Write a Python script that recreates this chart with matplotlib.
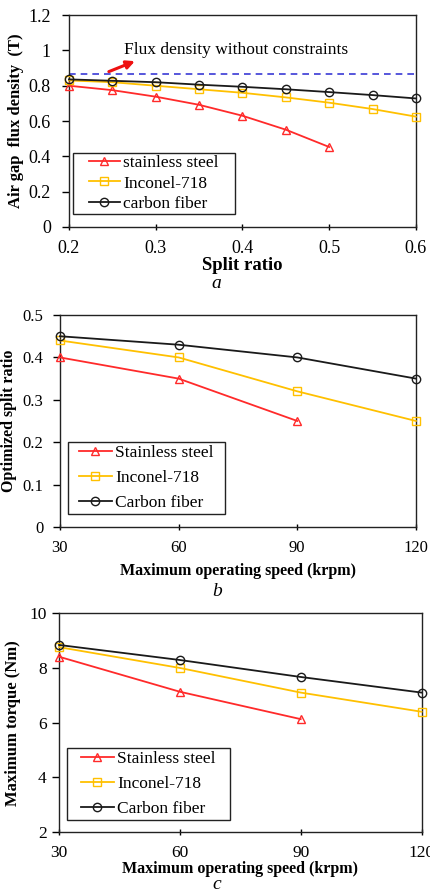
import matplotlib
matplotlib.use("Agg")
import matplotlib.pyplot as plt
from matplotlib.patches import Rectangle

plt.rcParams['font.family'] = ['Liberation Serif', 'DejaVu Serif']

# Panel a
split_ss = [0.2, 0.25, 0.3, 0.35, 0.4, 0.45, 0.5]
flux_ss = [0.80, 0.775, 0.738, 0.692, 0.63, 0.551, 0.453]
split_in = [0.2, 0.25, 0.3, 0.35, 0.4, 0.45, 0.5, 0.55, 0.6]
flux_in = [0.83, 0.82, 0.80, 0.78, 0.76, 0.734, 0.704, 0.668, 0.625]
split_cf = [0.2, 0.25, 0.3, 0.35, 0.4, 0.45, 0.5, 0.55, 0.6]
flux_cf = [0.836, 0.828, 0.82, 0.806, 0.794, 0.78, 0.764, 0.747, 0.728]
flux_unconstrained = 0.866

# Panel b / c
speed_ss = [30, 60, 90]
speed_all = [30, 60, 90, 120]
opt_split_ss = [0.40, 0.35, 0.25]
opt_split_in = [0.44, 0.40, 0.32, 0.25]
opt_split_cf = [0.45, 0.43, 0.40, 0.35]
torque_ss = [8.41, 7.13, 6.13]
torque_in = [8.76, 8.0, 7.10, 6.40]
torque_cf = [8.84, 8.29, 7.67, 7.10]

RED = '#ff2a2a'
YEL = '#ffc000'
BLK = '#1a1a1a'

W, H = 431, 890
fig = plt.figure(figsize=(W / 100, H / 100), dpi=100)

def style(ax, ts, ypad):
    for s in ax.spines.values():
        s.set_linewidth(1.0)
        s.set_color('#222222')
    ax.tick_params(axis='y', direction='out', length=5, width=1, labelsize=ts, pad=ypad)
    ax.tick_params(axis='x', direction='inout', length=5, width=1, labelsize=ts, pad=7)

def series(ax, x, y, color, marker, label):
    ax.plot(x, y, color=color, lw=1.3, marker=marker, markersize=6,
            markerfacecolor='none', markeredgecolor=color, markeredgewidth=1.0,
            label=label, clip_on=False, zorder=3)

legends = []

def legend(ax, left_px, bottom_px, padx, pady, fs, hl, ls):
    leg = ax.legend(loc='lower left',
                    bbox_to_anchor=((left_px + padx) / W, (H - bottom_px + pady) / H),
                    bbox_transform=fig.transFigure, fontsize=fs, frameon=False,
                    handlelength=hl, borderpad=0, labelspacing=ls,
                    handletextpad=0.2, borderaxespad=0)
    leg.set_zorder(6)
    legends.append((ax, leg, padx, pady))

# ---- a ----
ax1 = fig.add_axes([0.160, 0.745, 0.805, 0.238])
ax1.plot([0.2, 0.6], [flux_unconstrained]*2, color='#3a3ad6', lw=1.2, ls=(0, (4, 3)), zorder=2)
series(ax1, split_ss, flux_ss, RED, '^', 'stainless steel')
series(ax1, split_in, flux_in, YEL, 's', 'Inconel-718')
series(ax1, split_cf, flux_cf, BLK, 'o', 'carbon fiber')
ax1.set_xlim(0.2, 0.6)
ax1.set_ylim(0, 1.2)
ax1.set_xticks([0.2, 0.3, 0.4, 0.5, 0.6])
ax1.set_xticklabels(['0.2', '0.3', '0.4', '0.5', '0.6'])
ax1.set_yticks([0, 0.2, 0.4, 0.6, 0.8, 1.0, 1.2])
ax1.set_yticklabels(['0', '0.2', '0.4', '0.6', '0.8', '1', '1.2'])
style(ax1, 13, 8)
ax1.set_xlabel('Split ratio', fontsize=13.5, fontweight='bold', labelpad=0)
ax1.set_ylabel('Air gap  flux density  (T)', fontsize=12, fontweight='bold', labelpad=3)
ax1.annotate('', xy=(0.279, 0.945), xytext=(0.243, 0.874),
             arrowprops=dict(arrowstyle='-|>', color='#ee1111', lw=2.2, mutation_scale=12))
ax1.text(0.263, 1.0, 'Flux density without constraints', fontsize=12.5, va='center', ha='left')
legend(ax1, 72.7, 214, 16, 2, 12.5, 1.8, 0.25)
fig.text(0.503, 0.682, 'a', fontsize=14, style='italic', ha='center', va='center')

# ---- b ----
ax2 = fig.add_axes([0.139, 0.408, 0.826, 0.238])
series(ax2, speed_ss, opt_split_ss, RED, '^', 'Stainless steel')
series(ax2, speed_all, opt_split_in, YEL, 's', 'Inconel-718')
series(ax2, speed_all, opt_split_cf, BLK, 'o', 'Carbon fiber')
ax2.set_xlim(30, 120)
ax2.set_ylim(0, 0.5)
ax2.set_xticks([30, 60, 90, 120])
ax2.set_yticks([0, 0.1, 0.2, 0.3, 0.4, 0.5])
ax2.set_yticklabels(['0', '0.1', '0.2', '0.3', '0.4', '0.5'])
style(ax2, 12, 7)
ax2.set_xlabel('Maximum operating speed (krpm)', fontsize=11.5, fontweight='bold', labelpad=5)
ax2.set_ylabel('Optimized split ratio', fontsize=11.5, fontweight='bold', labelpad=4)
legend(ax2, 68, 514, 11, 3, 12.5, 1.9, 0.5)
fig.text(0.503, 0.335, 'b', fontsize=14, style='italic', ha='center', va='center')

# ---- c ----
ax3 = fig.add_axes([0.137, 0.065, 0.841, 0.246])
series(ax3, speed_ss, torque_ss, RED, '^', 'Stainless steel')
series(ax3, speed_all, torque_in, YEL, 's', 'Inconel-718')
series(ax3, speed_all, torque_cf, BLK, 'o', 'Carbon fiber')
ax3.set_xlim(30, 120)
ax3.set_ylim(2, 10)
ax3.set_xticks([30, 60, 90, 120])
ax3.set_yticks([2, 4, 6, 8, 10])
style(ax3, 12.5, 4)
ax3.set_xlabel('Maximum operating speed (krpm)', fontsize=11.5, fontweight='bold', labelpad=0)
ax3.set_ylabel('Maximum torque (Nm)', fontsize=12, fontweight='bold', labelpad=6)
legend(ax3, 67, 820, 14, 3, 12.5, 1.9, 0.5)
fig.text(0.503, -0.003, 'c', fontsize=14, style='italic', ha='center', va='bottom')

# draw legend frames with Excel-like wide horizontal padding
fig.canvas.draw()
renderer = fig.canvas.get_renderer()
for ax, leg, padx, pady in legends:
    bb = leg.get_window_extent(renderer)
    x0 = (bb.x0 - padx) / W
    y0 = (bb.y0 - pady) / H
    w = (bb.width + 2 * padx) / W
    h = (bb.height + 2 * pady) / H
    rect = Rectangle((x0, y0), w, h, transform=fig.transFigure,
                     fill=True, facecolor='white', edgecolor='#222222',
                     lw=1.0, zorder=5, clip_on=False)
    ax.add_artist(rect)

fig.savefig('out.png', dpi=100)
